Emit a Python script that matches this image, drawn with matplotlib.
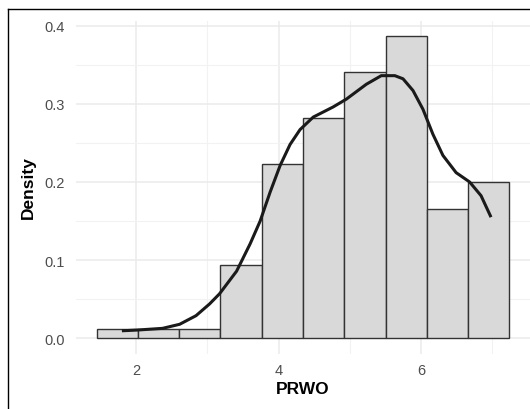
import numpy as np
import matplotlib
matplotlib.use('Agg')
import matplotlib.pyplot as plt
from matplotlib.lines import Line2D

plt.rcParams['font.family'] = ['Liberation Sans', 'DejaVu Sans']

# histogram (density scale)
bin_width = 0.579
bin_centers = [1.735, 2.314, 2.893, 3.473, 4.052, 4.631, 5.210, 5.789, 6.369, 6.948]
bar_density = [0.0124, 0.0124, 0.0124, 0.0942, 0.2230, 0.2823, 0.3403, 0.3872, 0.1650, 0.2004]

# kernel density curve
kde_x = [1.80, 2.01, 2.37, 2.61, 2.84, 3.03, 3.17, 3.41, 3.60, 3.74, 3.88, 4.02, 4.16,
         4.30, 4.485, 4.765, 4.95, 5.23, 5.44, 5.63, 5.745, 5.885, 6.025, 6.165, 6.305,
         6.49, 6.68, 6.84, 6.98]
kde_y = [0.0097, 0.0106, 0.0128, 0.018, 0.029, 0.044, 0.057, 0.086, 0.121, 0.150, 0.187,
         0.221, 0.248, 0.267, 0.283, 0.296, 0.306, 0.325, 0.336, 0.336, 0.332, 0.317,
         0.293, 0.261, 0.234, 0.212, 0.200, 0.1825, 0.155]

x_ticks = [2, 4, 6]
y_ticks = [0.0, 0.1, 0.2, 0.3, 0.4]

fig = plt.figure(figsize=(5.3, 4.1), dpi=100)
ax = fig.add_axes([76 / 530, 1 - 354.5 / 410, 1 - 76 / 530, 333 / 410])

ax.bar(bin_centers, bar_density, width=bin_width, color='#D9D9D9',
       edgecolor='#333333', linewidth=1.0, zorder=2)
ax.plot(kde_x, kde_y, color='#1A1A1A', linewidth=2.2, solid_capstyle='butt',
        solid_joinstyle='round', zorder=3)

# ggplot-like expansion
lo = bin_centers[0] - bin_width / 2
hi = bin_centers[-1] + bin_width / 2
ax.set_xlim(lo - 0.05 * (hi - lo), hi + 0.05 * (hi - lo))
ymax = max(bar_density)
ax.set_ylim(-0.05 * ymax, ymax * 1.05)

ax.set_xticks(x_ticks)
ax.set_xticklabels([str(t) for t in x_ticks])
ax.set_yticks(y_ticks)
ax.set_yticklabels([f'{t:.1f}' for t in y_ticks])
ax.set_xticks([3, 5, 7], minor=True)
ax.set_yticks([0.05, 0.15, 0.25, 0.35], minor=True)

ax.grid(True, which='major', color='#EBEBEB', linewidth=1.1, zorder=0)
ax.grid(True, which='minor', color='#F2F2F2', linewidth=0.8, zorder=0)
ax.set_axisbelow(True)
for s in ax.spines.values():
    s.set_visible(False)
ax.tick_params(which='both', length=0)
ax.tick_params(axis='x', labelsize=10.5, labelcolor='#4D4D4D', pad=7)
ax.tick_params(axis='y', labelsize=10.5, labelcolor='#4D4D4D', pad=8)

ax.set_xlabel('PRWO', fontsize=12.5, fontweight='bold', labelpad=2.6)
ax.set_ylabel('Density', fontsize=12.5, fontweight='bold', labelpad=6)

# screenshot frame at top and left
fig.add_artist(Line2D([8 / 530, 1.0], [1 - 10 / 410, 1 - 10 / 410],
                      transform=fig.transFigure, color='black', linewidth=1.0))
fig.add_artist(Line2D([8 / 530, 8 / 530], [0, 1 - 10 / 410],
                      transform=fig.transFigure, color='black', linewidth=1.0))

fig.savefig('out.png', dpi=100)
